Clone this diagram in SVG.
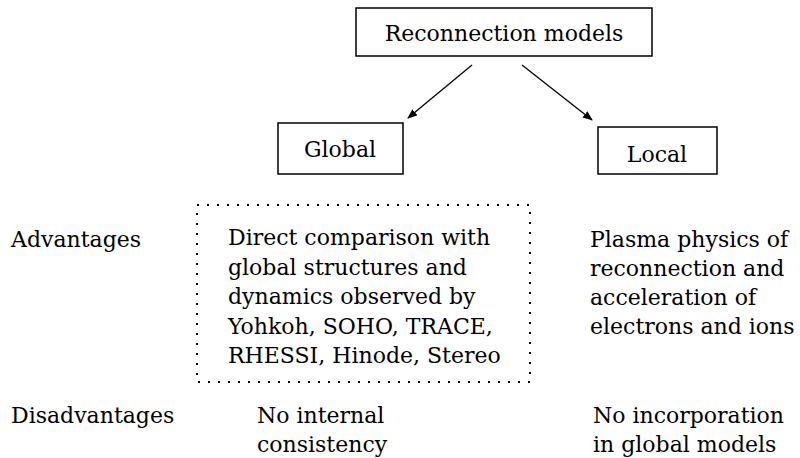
<svg xmlns="http://www.w3.org/2000/svg" width="800" height="458" viewBox="0 0 800 458">
<style>
text{font-family:"DejaVu Serif","Liberation Serif",serif;font-size:22px;fill:#000}
.box{fill:#fff;stroke:#000;stroke-width:1.5}
.mid{text-anchor:middle}
.edge{stroke:#000;stroke-width:1.3;fill:none;marker-end:url(#ah)}
.dot{fill:none;stroke:#000;stroke-width:2;stroke-dasharray:2 8}
</style>
<defs>
<marker id="ah" markerWidth="10" markerHeight="8" refX="9" refY="4" orient="auto" markerUnits="userSpaceOnUse">
<path d="M0,0 L10,4 L0,8 Z" fill="#000"/>
</marker>
</defs>
<rect width="800" height="458" fill="#fff"/>
<g id="root">
<rect class="box" x="356" y="8" width="296" height="48"/>
<text class="mid" x="504" y="41">Reconnection models</text>
</g>
<g id="global">
<rect class="box" x="278" y="123" width="125" height="51"/>
<text class="mid" x="340" y="157">Global</text>
</g>
<g id="local">
<rect class="box" x="598" y="127" width="119" height="47"/>
<text class="mid" x="657" y="162">Local</text>
</g>
<g id="connectors">
<line class="edge" x1="472" y1="65" x2="408" y2="118"/>
<line class="edge" x1="522" y1="65" x2="592" y2="120"/>
</g>
<g id="row-labels">
<text x="11" y="247">Advantages</text>
<text x="11" y="423">Disadvantages</text>
</g>
<g id="global-advantages">
<rect class="dot" x="197" y="205" width="333" height="177"/>
<text x="228" y="245">Direct comparison with</text>
<text x="228" y="274.5">global structures and</text>
<text x="228" y="304">dynamics observed by</text>
<text x="228" y="333.5">Yohkoh, SOHO, TRACE,</text>
<text x="228" y="363">RHESSI, Hinode, Stereo</text>
</g>
<g id="local-advantages">
<text x="590" y="247">Plasma physics of</text>
<text x="590" y="276">reconnection and</text>
<text x="590" y="305">acceleration of</text>
<text x="590" y="334">electrons and ions</text>
</g>
<g id="global-disadvantages">
<text x="257" y="423">No internal</text>
<text x="257" y="452">consistency</text>
</g>
<g id="local-disadvantages">
<text x="593" y="423">No incorporation</text>
<text x="593" y="452">in global models</text>
</g>
</svg>
